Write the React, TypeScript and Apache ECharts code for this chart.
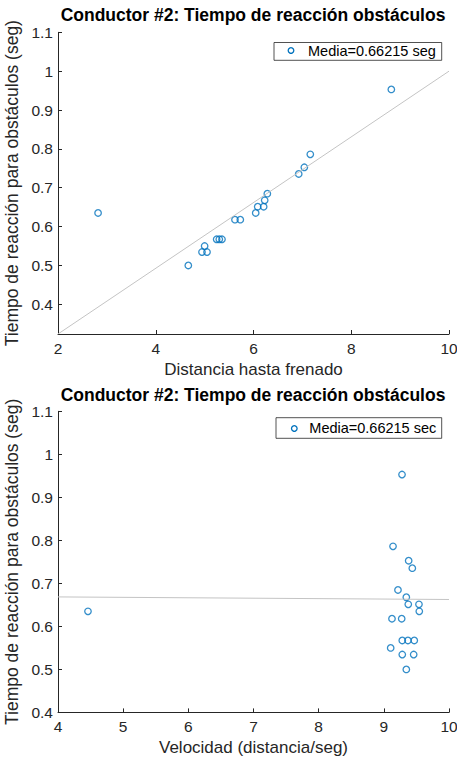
import React, { useEffect, useRef } from "react";
import * as echarts from "echarts";

// Reaction time (seg) per trial
const reactionTime = [
  0.786, 0.7526, 0.7354, 0.6847, 0.6677, 0.6512, 0.6512, 0.635, 0.6178, 0.6178,
  0.5673, 0.5673, 0.5673, 0.55, 0.5346, 0.5346, 0.5, 0.953, 0.635,
];
// Braking distance per trial
const brakingDistance = [
  7.162, 7.04, 6.925, 6.283, 6.229, 6.208, 6.086, 6.045, 5.73, 5.621,
  5.355, 5.3, 5.246, 5.0, 4.946, 5.049, 4.666, 8.82, 2.82,
];
// Velocity (distance/seg) per trial
const velocity = [
  9.141, 9.381, 9.437, 9.217, 9.345, 9.539, 9.375, 9.544, 9.274, 9.125,
  9.467, 9.37, 9.283, 9.105, 9.283, 9.458, 9.345, 9.279, 4.46,
];
// Reference lines
const fitLineX = [2, 10];
const fitLineY = [0.3236, 1.0];
const meanLineX = [4, 10];
const meanLineY = [0.6685, 0.6625];

const yTicksTop = [0.4, 0.5, 0.6, 0.7, 0.8, 0.9, 1.0, 1.1];
const yTicksBottom = [0.4, 0.5, 0.6, 0.7, 0.8, 0.9, 1.0, 1.1];

const titleText = "Conductor #2: Tiempo de reacción obstáculos";
const yLabel = "Tiempo de reacción para obstáculos (seg)";
const xLabelTop = "Distancia hasta frenado";
const xLabelBottom = "Velocidad (distancia/seg)";
const legendTop = "Media=0.66215 seg";
const legendBottom = "Media=0.66215 sec";

const FONT = "Liberation Sans, Arial, Helvetica, sans-serif";
const AX = "#262626";
const BLUE = "#0072BD";

export default function App() {
  const ref = useRef<HTMLDivElement>(null);
  useEffect(() => {
    if (!ref.current) return;
    const chart = echarts.init(ref.current, null, { renderer: "svg" });
    const fmt = (v: number) => String(+Number(v).toFixed(1));
    const axisCommonX = (min: number, max: number, interval: number, name: string, gi: number) => ({
      type: "value",
      gridIndex: gi,
      min,
      max,
      interval,
      name,
      nameLocation: "middle",
      nameGap: 27,
      nameTextStyle: { fontFamily: FONT, fontSize: 17, color: AX },
      axisLine: { show: true, lineStyle: { color: AX, width: 1 } },
      axisTick: { show: true, inside: true, length: 4, lineStyle: { color: AX, width: 1 } },
      axisLabel: { fontFamily: FONT, fontSize: 15.5, color: AX, margin: 6, formatter: (v: number) => String(v) },
      splitLine: { show: false },
    });
    const axisCommonY = (min: number, max: number, ticks: number[], gi: number) => ({
      type: "value",
      gridIndex: gi,
      min,
      max,
      name: yLabel,
      nameLocation: "middle",
      nameRotate: 90,
      nameGap: 34,
      nameTextStyle: { fontFamily: FONT, fontSize: 17.5, color: AX },
      axisLine: { show: true, lineStyle: { color: AX, width: 1 } },
      axisTick: { show: true, inside: true, length: 4, customValues: ticks, lineStyle: { color: AX, width: 1 } },
      axisLabel: { fontFamily: FONT, fontSize: 15.5, color: AX, margin: 5, customValues: ticks, formatter: fmt },
      splitLine: { show: false },
    });
    const scatterStyle = {
      type: "scatter",
      symbol: "circle",
      symbolSize: 6.5,
      itemStyle: { color: "rgba(0,0,0,0)", borderColor: BLUE, borderWidth: 1.3 },
    };
    const legendBox = (x: number, y: number, w: number, h: number, mx: number, my: number, tx: number, text: string) => ({
      type: "group",
      children: [
        { type: "rect", shape: { x, y, width: w, height: h }, style: { fill: "#fff", stroke: AX, lineWidth: 0.8 } },
        { type: "circle", shape: { cx: mx, cy: my, r: 2.8 }, style: { fill: "none", stroke: BLUE, lineWidth: 1.3 } },
        {
          type: "text",
          x: tx,
          y: y + h / 2,
          style: { text, fontFamily: FONT, fontSize: 14.5, fill: "#000", textAlign: "left", textVerticalAlign: "middle" },
        },
      ],
    });
    chart.setOption({
      animation: false,
      backgroundColor: "#fff",
      grid: [
        { left: 58, right: 8, top: 32.3, height: 301.7, containLabel: false, outerBoundsMode: "none" },
        { left: 58, right: 8, top: 411.3, height: 301.1, containLabel: false, outerBoundsMode: "none" },
      ],
      xAxis: [
        axisCommonX(2, 10, 2, xLabelTop, 0),
        axisCommonX(4, 10, 1, xLabelBottom, 1),
      ],
      yAxis: [
        axisCommonY(0.3236, 1.1, yTicksTop, 0),
        axisCommonY(0.4, 1.1, yTicksBottom, 1),
      ],
      series: [
        {
          type: "line",
          xAxisIndex: 0,
          yAxisIndex: 0,
          data: fitLineX.map((x, i) => [x, fitLineY[i]]),
          symbol: "none",
          lineStyle: { color: "#c4c4c4", width: 1 },
          silent: true,
        },
        {
          ...scatterStyle,
          name: legendTop,
          xAxisIndex: 0,
          yAxisIndex: 0,
          data: brakingDistance.map((x, i) => [x, reactionTime[i]]),
        },
        {
          type: "line",
          xAxisIndex: 1,
          yAxisIndex: 1,
          data: meanLineX.map((x, i) => [x, meanLineY[i]]),
          symbol: "none",
          lineStyle: { color: "#c4c4c4", width: 1 },
          silent: true,
        },
        {
          ...scatterStyle,
          name: legendBottom,
          xAxisIndex: 1,
          yAxisIndex: 1,
          data: velocity.map((x, i) => [x, reactionTime[i]]),
        },
      ],
      graphic: [
        {
          type: "text",
          x: 253,
          y: 15,
          style: { text: titleText, fontFamily: FONT, fontSize: 17.5, fontWeight: "bold", fill: "#000", textAlign: "center", textVerticalAlign: "middle" },
        },
        {
          type: "text",
          x: 253,
          y: 395,
          style: { text: titleText, fontFamily: FONT, fontSize: 17.5, fontWeight: "bold", fill: "#000", textAlign: "center", textVerticalAlign: "middle" },
        },
        legendBox(274, 42.5, 167.7, 17.8, 291, 50.5, 308, legendTop),
        legendBox(276, 417.7, 165.7, 20.6, 294.3, 428.5, 309.3, legendBottom),
      ],
    });
    return () => chart.dispose();
  }, []);
  return (
    <div
      ref={ref}
      style={{ position: "absolute", left: 0, top: 0, width: 457, height: 762 }}
    />
  );
}
